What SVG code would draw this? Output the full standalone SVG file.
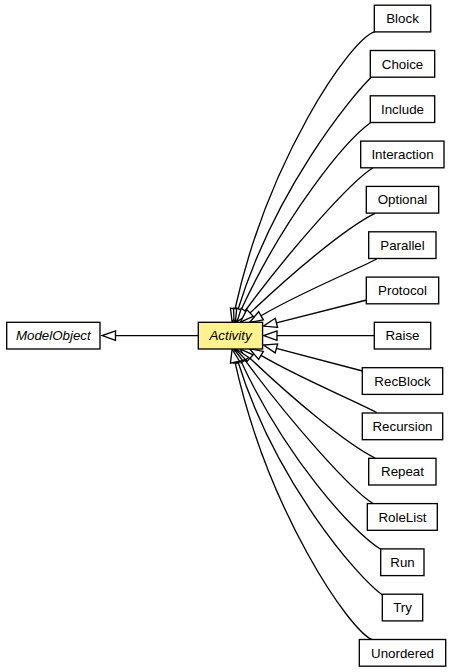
<svg xmlns="http://www.w3.org/2000/svg" width="451" height="672" viewBox="0 0 451 672">
<style>
.n rect{fill:#fff;stroke:#000;stroke-width:1.33}
.n text{font-family:"Liberation Sans",Arial,sans-serif;font-size:13.33px;text-anchor:middle;fill:#000}
.i text{font-style:italic}
#Activity rect{fill:#fff28f}
#edges path{fill:none;stroke:#000;stroke-width:1.33;marker-end:url(#tri)}
</style>
<defs>
<marker id="tri" markerUnits="userSpaceOnUse" orient="auto" refX="0" refY="0" markerWidth="20" markerHeight="20" overflow="visible">
<path d="M0,-4.67 L13.3,0 L0,4.67 Z" fill="#fff" stroke="#000" stroke-width="1.33"/>
</marker>
</defs>
<rect width="451" height="672" fill="#fff"/>
<g id="edges">
<path d="M198.3,335.6 L115.5,335.6"/>
<path d="M375,31.7 C350,39 268,160 235,309"/>
<path d="M371,77.5 C350,98 275,190 238,309.5"/>
<path d="M370.5,122.8 C345,141 285,215 241,310"/>
<path d="M373,167.7 C350,182 290,250 245,311"/>
<path d="M375,213.3 C345,228 290,275 250,313"/>
<path d="M376.7,259 C345,275 300,293 261,315.8"/>
<path d="M366.7,300 L276.4,322.8"/>
<path d="M374.3,335.6 L277,335.6"/>
<path d="M362.5,371 L276.4,348.4"/>
<path d="M376.7,412.5 C345,396.2 300,378.2 261,355.4"/>
<path d="M375,458 C345,443.2 290,396.2 250,358.2"/>
<path d="M373,503.5 C350,489.2 290,421.2 245,360.2"/>
<path d="M381,549.5 C352,532 285,456.2 241,361.2"/>
<path d="M382.5,595 C358,578 275,481.2 238,361.7"/>
<path d="M373,640 C350,632.2 268,511.2 235,362.2"/>
</g>
<g id="ModelObject" class="n i"><rect x="6.7" y="322.3" width="93.3" height="26.7"/><text x="53.3" y="340.3">ModelObject</text></g>
<g id="Activity" class="n i"><rect x="198.3" y="322.3" width="64.3" height="26.7"/><text x="230.5" y="340.3">Activity</text></g>
<g id="Block" class="n"><rect x="374.3" y="5.2" width="56.4" height="26.7"/><text x="402.5" y="23.2">Block</text></g>
<g id="Choice" class="n"><rect x="370.3" y="50.5" width="64.4" height="26.7"/><text x="402.5" y="68.5">Choice</text></g>
<g id="Include" class="n"><rect x="370.3" y="95.8" width="64.4" height="26.7"/><text x="402.5" y="113.8">Include</text></g>
<g id="Interaction" class="n"><rect x="360.7" y="141.1" width="83.3" height="26.7"/><text x="402.5" y="159.1">Interaction</text></g>
<g id="Optional" class="n"><rect x="366.3" y="186.4" width="72.4" height="26.7"/><text x="402.5" y="204.4">Optional</text></g>
<g id="Parallel" class="n"><rect x="368.7" y="231.8" width="67.3" height="26.7"/><text x="402.5" y="249.8">Parallel</text></g>
<g id="Protocol" class="n"><rect x="366.3" y="277.1" width="72.4" height="26.7"/><text x="402.5" y="295.1">Protocol</text></g>
<g id="Raise" class="n"><rect x="374.3" y="322.3" width="56.4" height="26.7"/><text x="402.5" y="340.3">Raise</text></g>
<g id="RecBlock" class="n"><rect x="362.3" y="367.7" width="80.4" height="26.7"/><text x="402.5" y="385.7">RecBlock</text></g>
<g id="Recursion" class="n"><rect x="362.3" y="413" width="80.4" height="26.7"/><text x="402.5" y="431">Recursion</text></g>
<g id="Repeat" class="n"><rect x="368.7" y="458.3" width="67.3" height="26.7"/><text x="402.5" y="476.3">Repeat</text></g>
<g id="RoleList" class="n"><rect x="367.3" y="503.6" width="70" height="26.7"/><text x="402.5" y="521.6">RoleList</text></g>
<g id="Run" class="n"><rect x="380.7" y="548.9" width="43.3" height="26.7"/><text x="402.5" y="566.9">Run</text></g>
<g id="Try" class="n"><rect x="382.3" y="594.2" width="40.4" height="26.7"/><text x="402.5" y="612.2">Try</text></g>
<g id="Unordered" class="n"><rect x="359.3" y="639.5" width="86.4" height="26.7"/><text x="402.5" y="657.5">Unordered</text></g>
</svg>
